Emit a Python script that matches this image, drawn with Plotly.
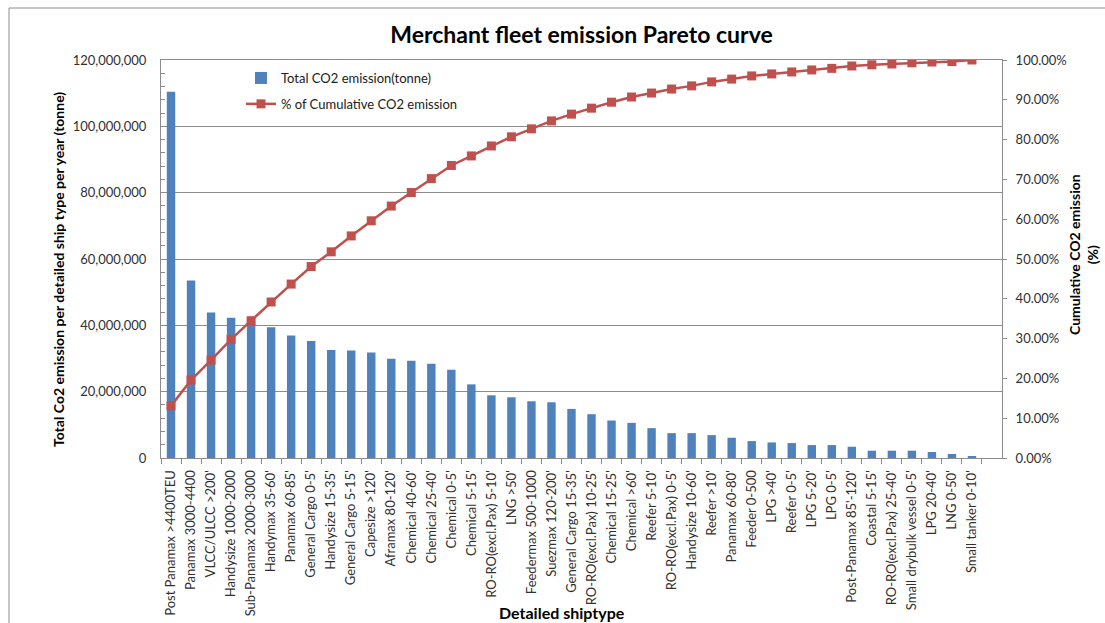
import plotly.graph_objects as go

# Ship types, ordered by annual CO2 emission (largest first)
ship_types = [
    "Post Panamax >4400TEU", "Panamax 3000-4400", "VLCC/ULCC >200'", "Handysize 1000-2000",
    "Sub-Panamax 2000-3000", "Handymax 35-60'", "Panamax 60-85'", "General Cargo 0-5'",
    "Handysize 15-35'", "General Cargo 5-15'", "Capesize >120'", "Aframax 80-120'",
    "Chemical 40-60'", "Chemical 25-40'", "Chemical 0-5'", "Chemical 5-15'",
    "RO-RO(excl.Pax) 5-10'", "LNG >50'", "Feedermax 500-1000", "Suezmax 120-200'",
    "General Cargo 15-35'", "RO-RO(excl.Pax) 10-25'", "Chemical 15-25'", "Chemical >60'",
    "Reefer 5-10'", "RO-RO(excl.Pax) 0-5'", "Handysize 10-60'", "Reefer >10'",
    "Panamax 60-80'", "Feeder 0-500", "LPG >40'", "Reefer 0-5'", "LPG 5-20'", "LPG 0-5'",
    "Post-Panamax 85'-120'", "Coastal 5-15'", "RO-RO(excl.Pax) 25-40'",
    "Small drybulk vessel 0-5'", "LPG 20-40'", "LNG 0-50'", "Small tanker 0-10'",
]

# Total CO2 emission per ship type per year (tonne)
co2_tonnes = [
    110_400_000, 53_500_000, 43_900_000, 42_300_000, 40_500_000, 39_400_000,
    36_900_000, 35_300_000, 32_600_000, 32_400_000, 31_800_000, 29_900_000,
    29_300_000, 28_400_000, 26_600_000, 22_200_000, 18_900_000, 18_300_000,
    17_100_000, 16_800_000, 14_800_000, 13_200_000, 11_300_000, 10_600_000,
    9_000_000, 7_500_000, 7_500_000, 6_900_000, 6_100_000, 5_100_000,
    4_700_000, 4_500_000, 3_900_000, 3_900_000, 3_400_000, 2_200_000,
    2_200_000, 2_200_000, 1_800_000, 1_200_000, 600_000,
]

# Cumulative share of CO2 emission (%)
cumulative_pct = [
    13.1, 19.6, 24.6, 29.8, 34.5, 39.2, 43.7, 48.1, 51.8, 55.8,
    59.6, 63.3, 66.7, 70.2, 73.5, 75.9, 78.4, 80.7, 82.7, 84.7,
    86.4, 87.9, 89.4, 90.7, 91.7, 92.7, 93.5, 94.5, 95.2, 96.0,
    96.5, 97.0, 97.5, 97.9, 98.5, 98.8, 99.0, 99.3, 99.5, 99.6, 100.0,
]

FONT = "Lato, Carlito, 'Open Sans', sans-serif"
BLUE = "#4F81BD"
RED = "#C0504D"
GRID = "#8C8C8C"
TICK_TXT = "#303030"

fig = go.Figure()

fig.add_trace(go.Bar(
    x=ship_types, y=co2_tonnes, name="Total CO2 emission(tonne)",
    marker=dict(color=BLUE, line=dict(width=0)), width=0.42,
    legendgroup="a",
))

fig.add_trace(go.Scatter(
    x=ship_types, y=cumulative_pct, name="% of Cumulative CO2 emission",
    yaxis="y2", mode="lines+markers",
    line=dict(color=RED, width=2.5),
    marker=dict(symbol="square", size=9, color=RED),
    legendgroup="b",
))

W, H = 1105, 623
L, R, T, B = 161, 103, 60, 165
pw, ph = W - L - R, H - T - B


def px_x(px):
    return (px - L) / pw


def px_y(py):
    return (H - B - py) / ph


fig.update_layout(
    width=W, height=H,
    margin=dict(l=L, r=R, t=T, b=B, pad=0),
    paper_bgcolor="white", plot_bgcolor="white",
    font=dict(family=FONT, size=13, color="#404040"),
    title=dict(
        text="<b>Merchant fleet emission Pareto curve</b>",
        x=0.5, xanchor="center", xref="paper", y=1 - 35 / H, yanchor="middle",
        font=dict(family=FONT, size=23, color="black"),
    ),
    showlegend=True,
    legend=dict(
        x=px_x(241), y=px_y(63), xanchor="left", yanchor="top",
        bgcolor="rgba(0,0,0,0)", font=dict(size=13, color="#202020"),
        traceorder="grouped", tracegroupgap=6,
    ),
    xaxis=dict(
        type="category", range=[-0.5, 41.5], tickangle=-90, automargin=False,
        tickson="boundaries", ticks="outside", ticklen=5, tickcolor=GRID,
        showline=True, linecolor=GRID, linewidth=1, mirror=True,
        showgrid=False, tickfont=dict(size=13, color=TICK_TXT),
        ticklabelstandoff=6,
    ),
    yaxis=dict(
        range=[0, 120_000_000], dtick=20_000_000, tickformat=",d", automargin=False,
        showgrid=True, gridcolor=GRID, gridwidth=1,
        showline=True, linecolor=GRID, linewidth=1, mirror=True,
        ticks="inside", ticklen=4, tickcolor=GRID,
        minor=dict(dtick=4_000_000, ticks="inside", ticklen=4, tickcolor=GRID, showgrid=False),
        zeroline=False, tickfont=dict(size=13, color=TICK_TXT),
        ticklabelstandoff=11,
    ),
    yaxis2=dict(
        overlaying="y", side="right", range=[0, 100], dtick=10, automargin=False,
        tickformat=".2f", ticksuffix="%", showgrid=False, zeroline=False,
        showline=True, linecolor=GRID, linewidth=1,
        ticks="outside", ticklen=4, tickcolor=GRID,
        tickfont=dict(size=13, color=TICK_TXT), ticklabelstandoff=6,
    ),
    annotations=[
        dict(
            text="<b>Detailed shiptype</b>",
            xref="paper", yref="paper", x=px_x(562), y=px_y(612),
            xanchor="center", yanchor="middle", showarrow=False,
            font=dict(family=FONT, size=16, color="black"),
        ),
        dict(
            text="<b>Total Co2 emission per detailed ship type per year (tonne)</b>",
            textangle=-90, xref="paper", yref="paper", x=px_x(58), y=px_y(270),
            xanchor="center", yanchor="middle", showarrow=False,
            font=dict(family=FONT, size=14, color="black"),
        ),
        dict(
            text="<b>Cumulative CO2 emission<br>(%)</b>", textangle=-90,
            xref="paper", yref="paper", x=px_x(1084), y=px_y(255),
            xanchor="center", yanchor="middle", showarrow=False,
            font=dict(family=FONT, size=14, color="black"),
        ),
    ],
    shapes=[dict(
        type="rect", xref="paper", yref="paper", layer="below",
        x0=px_x(9), x1=px_x(W + 20),
        y0=px_y(H + 20), y1=px_y(8),
        line=dict(color="#8C8C8C", width=1), fillcolor="rgba(0,0,0,0)",
    )],
)

fig.write_html("out.html")
